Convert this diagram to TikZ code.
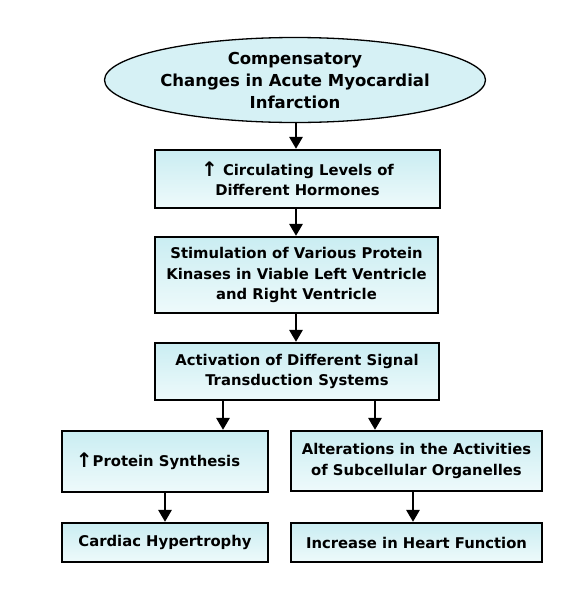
\documentclass[tikz,border=0pt]{standalone}
\usepackage{fontspec}
\setmainfont{DejaVu Sans}
\usetikzlibrary{shapes.geometric,arrows.meta}
\definecolor{topc}{RGB}{202,237,242}
\definecolor{botc}{RGB}{238,250,251}
\definecolor{ellc}{RGB}{214,241,245}
\newcommand{\upar}{\raisebox{-1.5pt}{\fontsize{20}{20}\selectfont\bfseries ↑}}
\begin{document}
\begin{tikzpicture}[x=1pt,y=-1pt,
  box/.style={draw=black,line width=2.2pt,top color=topc,bottom color=botc,
    align=center,inner sep=0pt,font=\fontsize{14.8}{20.5}\selectfont\bfseries},
  arr/.style={line width=2.8pt,-{Triangle[length=12pt,width=13pt]}}]
\useasboundingbox (0,0) rectangle (582,595);
\node[ellipse,draw=black,line width=1.3pt,fill=ellc,
  minimum width=307pt,minimum height=85pt,inner sep=0pt,align=center,
  font=\fontsize{16.5}{22}\selectfont\bfseries] (e) at (295,80)
  {Compensatory\\Changes in Acute Myocardial\\Infarction};
\node[box,minimum width=285pt,minimum height=58pt] (b1) at (297.5,179)
  {\upar\ Circulating Levels of\\Different Hormones};
\node[box,minimum width=283pt,minimum height=76pt] (b2) at (296.5,275)
  {Stimulation of Various Protein\\Kinases in Viable Left Ventricle\\and Right Ventricle};
\node[box,minimum width=284pt,minimum height=57pt] (b3) at (297,371.5)
  {Activation of Different Signal\\Transduction Systems};
\node[box,minimum width=206pt,minimum height=61pt] (b4) at (165,461.5)
  {\upar Protein Synthesis\hspace{14pt}};
\node[box,minimum width=251pt,minimum height=60pt] (b5) at (416.5,461)
  {Alterations in the Activities\\of Subcellular Organelles};
\node[box,minimum width=206pt,minimum height=39pt] (b6) at (165,542.5)
  {Cardiac Hypertrophy};
\node[box,minimum width=251pt,minimum height=39pt] (b7) at (416.5,542.5)
  {Increase in Heart Function};
\coordinate (xl) at (223,0);
\coordinate (xr) at (375,0);
\coordinate (xa) at (165,0);
\coordinate (xb) at (413,0);
\coordinate (xm) at (296,0);
\draw[arr] (e.south -| xm) -- (b1.north -| xm);
\draw[arr] (b1.south -| xm) -- (b2.north -| xm);
\draw[arr] (b2.south -| xm) -- (b3.north -| xm);
\draw[arr] (b3.south -| xl) -- (b4.north -| xl);
\draw[arr] (b3.south -| xr) -- (b5.north -| xr);
\draw[arr] (b4.south -| xa) -- (b6.north -| xa);
\draw[arr] (b5.south -| xb) -- (b7.north -| xb);
\end{tikzpicture}
\end{document}
